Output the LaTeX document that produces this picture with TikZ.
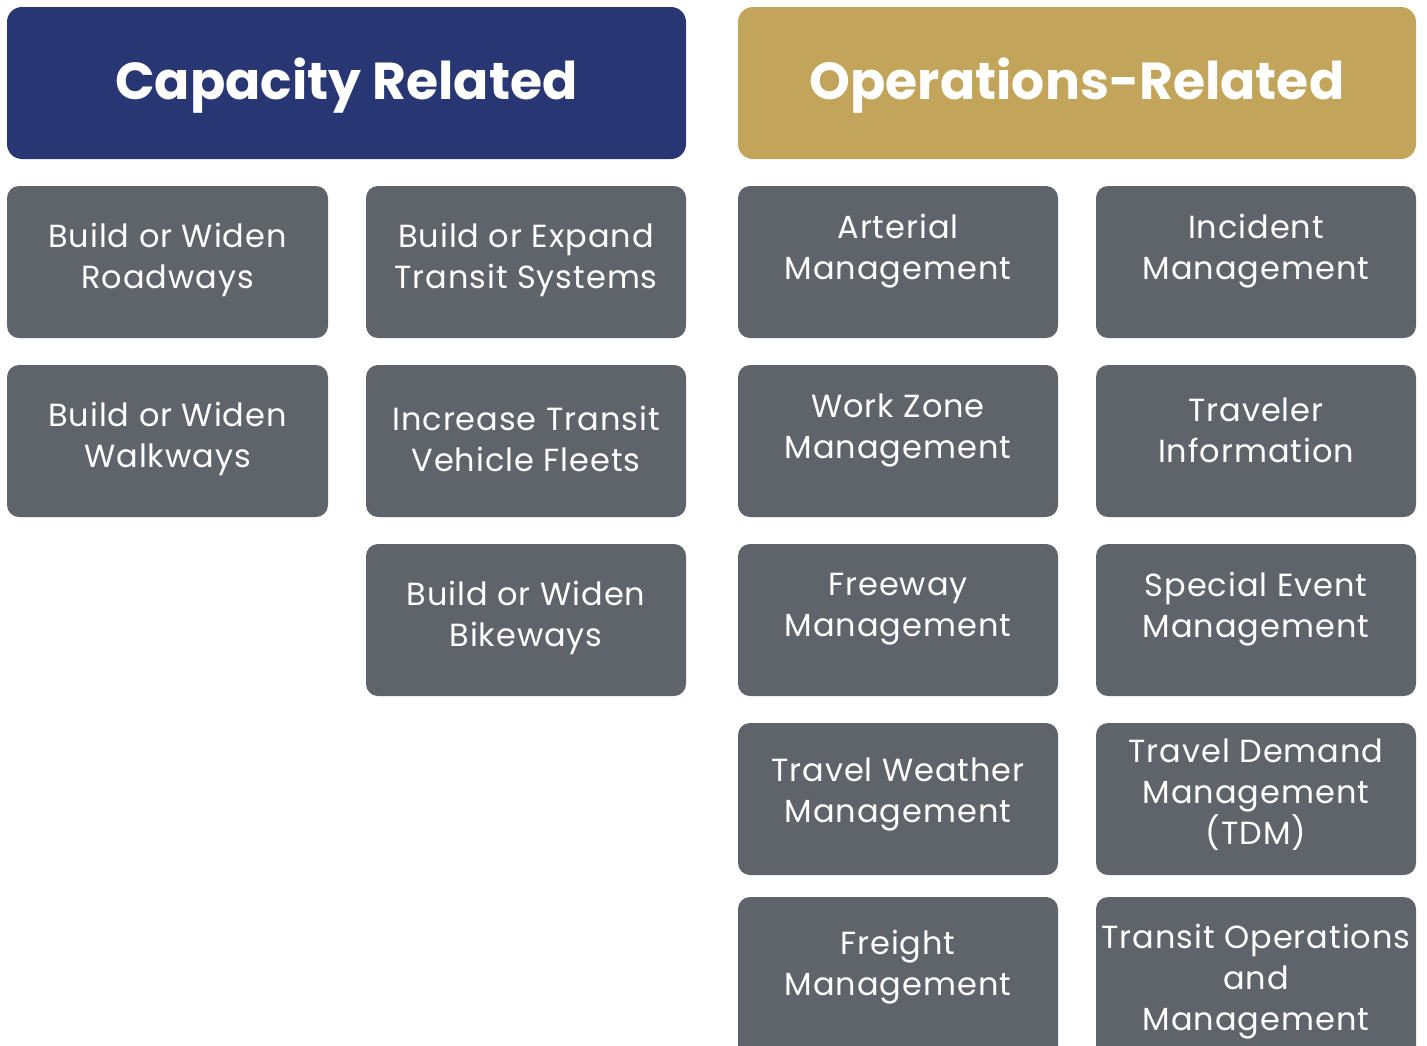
\documentclass[tikz,border=0pt]{standalone}
\usepackage{fontspec}
\setmainfont{Poppins}
\definecolor{navy}{HTML}{283773}
\definecolor{gold}{HTML}{C2A55B}
\definecolor{slate}{HTML}{5F636A}
\tikzset{
  header/.style={rounded corners=15pt},
  tile/.style={fill=slate, rounded corners=12pt},
  htext/.style={text=white, font=\fontsize{52}{60}\selectfont\bfseries, anchor=center, inner sep=0pt},
  ttext/.style={text=white, font=\fontsize{32}{41}\selectfont\addfontfeature{LetterSpace=3}, align=center, anchor=center, inner sep=0pt},
}
\begin{document}
\begin{tikzpicture}[x=1pt,y=-1pt]
\useasboundingbox (0,0) rectangle (1427,1045);
\clip (0,0) rectangle (1427,1045);
% headers
\fill[navy, header] (7,7) rectangle (686,159);
\fill[gold, header] (738,7) rectangle (1416,159);
\node[htext] (cap) at (346.5,86) {Capacity Related};
\node[htext] (ops) at (1077,86) {Operations-Related};
% tiles
\fill[tile] (7,186) rectangle (328,338);
\fill[tile] (366,186) rectangle (686,338);
\fill[tile] (738,186) rectangle (1058,338);
\fill[tile] (1096,186) rectangle (1416,338);
\fill[tile] (7,365) rectangle (328,517);
\fill[tile] (366,365) rectangle (686,517);
\fill[tile] (738,365) rectangle (1058,517);
\fill[tile] (1096,365) rectangle (1416,517);
\fill[tile] (366,544) rectangle (686,696);
\fill[tile] (738,544) rectangle (1058,696);
\fill[tile] (1096,544) rectangle (1416,696);
\fill[tile] (738,723) rectangle (1058,875);
\fill[tile] (1096,723) rectangle (1416,875);
\fill[tile] (738,897) rectangle (1058,1070);
\fill[tile] (1096,897) rectangle (1416,1070);
% texts
\node[ttext] (t1) at (167.5,259.5) {Build or Widen\\Roadways};
\node[ttext] (t2) at (526,259.5) {Build or Expand\\Transit Systems};
\node[ttext] (t3) at (898,251.5) {Arterial\\Management};
\node[ttext] (t4) at (1256,251.5) {Incident\\Management};
\node[ttext] (t5) at (167.5,438.5) {Build or Widen\\Walkways};
\node[ttext] (t6) at (526,438.5) {Increase Transit\\Vehicle Fleets};
\node[ttext] (t7) at (898,430.5) {Work Zone\\Management};
\node[ttext] (t8) at (1256,430.5) {Traveler\\Information};
\node[ttext] (t9) at (526,617.5) {Build or Widen\\Bikeways};
\node[ttext] (t10) at (898,609.5) {Freeway\\Management};
\node[ttext] (t11) at (1256,609.5) {Special Event\\Management};
\node[ttext] (t12) at (898,794.5) {Travel Weather\\Management};
\node[ttext] (t13) at (1256,795) {Travel Demand\\Management\\(TDM)};
\node[ttext] (t14) at (898,967.5) {Freight\\Management};
\node[ttext] (t15) at (1256,982) {Transit Operations\\and\\Management};
\end{tikzpicture}
\end{document}
